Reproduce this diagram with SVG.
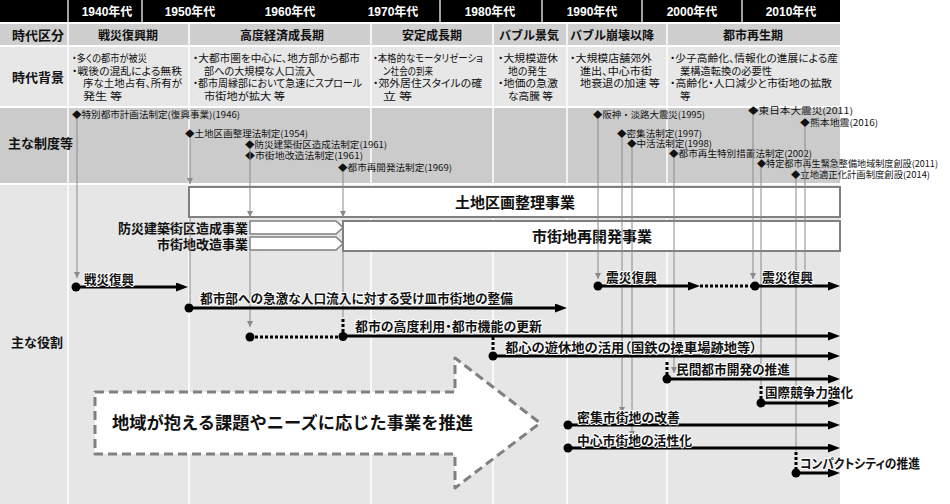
<svg xmlns="http://www.w3.org/2000/svg" width="950" height="504" viewBox="0 0 950 504">
<defs>
<style>
text{font-family:'Noto Sans CJK JP','Liberation Sans',sans-serif;fill:#111}
.hd{font-family:'Liberation Sans','Noto Sans CJK JP',sans-serif;font-weight:bold;font-size:12px;fill:#fff}
.pt{font-weight:bold;font-size:12px;text-anchor:middle}
.lb{font-weight:bold;font-size:13px}
.bg{font-size:10.5px;font-feature-settings:'palt'}
.in{font-size:9px}
.rl{font-weight:bold;font-size:13px;font-feature-settings:'palt';stroke:#fff;stroke-width:2;stroke-linejoin:round;paint-order:stroke}
.bx{fill:#fff;stroke:#808080;stroke-width:2}
.bt{font-weight:bold;font-size:15px;text-anchor:middle}
.gl{stroke:#8a8a8a;stroke-width:1;fill:none}
.ga{stroke:#8a8a8a;stroke-width:1;fill:none;marker-end:url(#gh)}
.rs{stroke:#000;stroke-width:3;fill:none}
.ra{stroke:#000;stroke-width:3;fill:none;marker-end:url(#ah)}
.rd{stroke:#000;stroke-width:3;fill:none;stroke-dasharray:3 2}
.dt{fill:#000}
.wl{stroke:#fff;stroke-width:1.5}
</style>
<marker id="ah" viewBox="0 0 12 9" refX="2" refY="4.5" markerWidth="12" markerHeight="9" markerUnits="userSpaceOnUse" orient="auto"><path d="M0,0 L12,4.5 L0,9 z" fill="#000"/></marker>
<marker id="gh" viewBox="0 0 6 6" refX="6" refY="3" markerWidth="6" markerHeight="6" markerUnits="userSpaceOnUse" orient="auto"><path d="M0,0 L6,3 L0,6 z" fill="#8a8a8a"/></marker>
</defs>
<rect width="950" height="504" fill="#fff"/>

<g id="table">
<rect x="0" y="0" width="840" height="22" fill="#000"/>
<rect x="0" y="24" width="840" height="21" fill="#cfcfcf"/>
<rect x="0" y="47" width="840" height="59" fill="#e7e7e7"/>
<rect x="0" y="108" width="840" height="75" fill="#cbcbcb"/>
<rect x="0" y="185" width="840" height="319" fill="#e6e6e6"/>
<g stroke="#d8d8d8" stroke-width="1.5">
<line x1="68" y1="0" x2="68" y2="22"/><line x1="142" y1="0" x2="142" y2="22"/><line x1="440" y1="0" x2="440" y2="22"/><line x1="542" y1="0" x2="542" y2="22"/><line x1="642" y1="0" x2="642" y2="22"/><line x1="742" y1="0" x2="742" y2="22"/>
</g>
<g class="wl">
<line x1="68" y1="23" x2="68" y2="504"/><line x1="189" y1="23" x2="189" y2="504"/><line x1="371" y1="23" x2="371" y2="504"/><line x1="493" y1="23" x2="493" y2="504"/><line x1="567" y1="23" x2="567" y2="504"/><line x1="667" y1="23" x2="667" y2="504"/>
</g>
</g>

<g id="decades">
<text class="hd" x="107" y="16" text-anchor="middle">1940年代</text>
<text class="hd" x="190" y="16" text-anchor="middle">1950年代</text>
<text class="hd" x="290" y="16" text-anchor="middle">1960年代</text>
<text class="hd" x="393" y="16" text-anchor="middle">1970年代</text>
<text class="hd" x="490" y="16" text-anchor="middle">1980年代</text>
<text class="hd" x="592" y="16" text-anchor="middle">1990年代</text>
<text class="hd" x="692" y="16" text-anchor="middle">2000年代</text>
<text class="hd" x="791" y="16" text-anchor="middle">2010年代</text>
</g>

<g id="row-labels">
<text class="lb" x="12" y="39.5" font-size="12">時代区分</text>
<text class="lb" x="12" y="82">時代背景</text>
<text class="lb" x="8" y="148">主な制度等</text>
<text class="lb" x="11" y="347" font-size="12">主な役割</text>
</g>

<g id="periods">
<text class="pt" x="128" y="39.5">戦災復興期</text>
<text class="pt" x="282" y="39.5">高度経済成長期</text>
<text class="pt" x="432" y="39.5">安定成長期</text>
<text class="pt" x="529" y="39.5">バブル景気</text>
<text class="pt" x="612" y="39.5">バブル崩壊以降</text>
<text class="pt" x="753" y="39.5">都市再生期</text>
</g>

<g id="background">
<text class="bg" x="72" y="62" textLength="75" lengthAdjust="spacingAndGlyphs">・多くの都市が被災</text>
<text class="bg" x="72" y="75" textLength="110" lengthAdjust="spacingAndGlyphs">・戦後の混乱による無秩</text>
<text class="bg" x="83" y="87" textLength="99" lengthAdjust="spacingAndGlyphs">序な土地占有、所有が</text>
<text class="bg" x="83" y="99.5" textLength="39" lengthAdjust="spacingAndGlyphs">発生 等</text>
<text class="bg" x="193" y="62" textLength="167" lengthAdjust="spacingAndGlyphs">・大都市圏を中心に、地方部から都市</text>
<text class="bg" x="204" y="75" textLength="111" lengthAdjust="spacingAndGlyphs">部への大規模な人口流入</text>
<text class="bg" x="193" y="87" textLength="169" lengthAdjust="spacingAndGlyphs">・都市周縁部において急速にスプロール</text>
<text class="bg" x="204" y="99.5" textLength="81" lengthAdjust="spacingAndGlyphs">市街地が拡大 等</text>
<text class="bg" x="373" y="62" textLength="110" lengthAdjust="spacingAndGlyphs">・本格的なモータリゼーショ</text>
<text class="bg" x="383" y="75" textLength="50" lengthAdjust="spacingAndGlyphs">ン社会の到来</text>
<text class="bg" x="373" y="87" textLength="109" lengthAdjust="spacingAndGlyphs">・郊外居住スタイルの確</text>
<text class="bg" x="383" y="99.5" textLength="29" lengthAdjust="spacingAndGlyphs">立 等</text>
<text class="bg" x="498" y="62" textLength="60" lengthAdjust="spacingAndGlyphs">・大規模遊休</text>
<text class="bg" x="508" y="75" textLength="39" lengthAdjust="spacingAndGlyphs">地の発生</text>
<text class="bg" x="498" y="87" textLength="60" lengthAdjust="spacingAndGlyphs">・地価の急激</text>
<text class="bg" x="508" y="99.5" textLength="45" lengthAdjust="spacingAndGlyphs">な高騰 等</text>
<text class="bg" x="570" y="62" textLength="82" lengthAdjust="spacingAndGlyphs">・大規模店舗郊外</text>
<text class="bg" x="580" y="75" textLength="72" lengthAdjust="spacingAndGlyphs">進出、中心市街</text>
<text class="bg" x="580" y="87" textLength="80" lengthAdjust="spacingAndGlyphs">地衰退の加速 等</text>
<text class="bg" x="670" y="62" textLength="168" lengthAdjust="spacingAndGlyphs">・少子高齢化、情報化の進展による産</text>
<text class="bg" x="680" y="75" textLength="92" lengthAdjust="spacingAndGlyphs">業構造転換の必要性</text>
<text class="bg" x="670" y="87" textLength="162" lengthAdjust="spacingAndGlyphs">・高齢化・人口減少と市街地の拡散</text>
<text class="bg" x="680" y="99.5">等</text>
</g>

<g id="institutions">
<text class="in" x="72" y="117.5" textLength="168" lengthAdjust="spacingAndGlyphs">◆特別都市計画法制定(復興事業)(1946)</text>
<text class="in" x="185" y="136.5" textLength="123" lengthAdjust="spacingAndGlyphs">◆土地区画整理法制定(1954)</text>
<text class="in" x="245" y="147.5" textLength="142" lengthAdjust="spacingAndGlyphs">◆防災建築街区造成法制定(1961)</text>
<text class="in" x="245" y="158.5" textLength="118" lengthAdjust="spacingAndGlyphs">◆市街地改造法制定(1961)</text>
<text class="in" x="338" y="170.5" textLength="114" lengthAdjust="spacingAndGlyphs">◆都市再開発法制定(1969)</text>
<text class="in" x="593" y="117.5" textLength="112" lengthAdjust="spacingAndGlyphs">◆阪神・淡路大震災(1995)</text>
<text class="in" x="748" y="113.5" textLength="105" lengthAdjust="spacingAndGlyphs">◆東日本大震災(2011)</text>
<text class="in" x="800" y="125.5" textLength="78" lengthAdjust="spacingAndGlyphs">◆熊本地震(2016)</text>
<text class="in" x="617" y="136.5" textLength="85" lengthAdjust="spacingAndGlyphs">◆密集法制定(1997)</text>
<text class="in" x="627" y="146.5" textLength="85" lengthAdjust="spacingAndGlyphs">◆中活法制定(1998)</text>
<text class="in" x="669" y="156.5" textLength="143" lengthAdjust="spacingAndGlyphs">◆都市再生特別措置法制定(2002)</text>
<text class="in" x="757" y="166.5" textLength="181" lengthAdjust="spacingAndGlyphs">◆特定都市再生緊急整備地域制度創設(2011)</text>
<text class="in" x="791" y="177.5" textLength="139" lengthAdjust="spacingAndGlyphs">◆立地適正化計画制度創設(2014)</text>
</g>

<g id="box-kukaku">
<rect class="bx" x="189" y="187" width="651" height="30"/>
<text class="bt" x="515" y="207.5">土地区画整理事業</text>
</g>
<g id="box-saikaihatsu">
<rect class="bx" x="343" y="221" width="497" height="30"/>
<text class="bt" x="592" y="241.5">市街地再開発事業</text>
</g>
<g id="box-bousai">
<polygon points="250,221 336,221 343,227.5 336,234 250,234" fill="#fff" stroke="#808080" stroke-width="1.5"/>
<text class="lb" x="248" y="232.5" font-size="12" text-anchor="end">防災建築街区造成事業</text>
</g>
<g id="box-kaizou">
<polygon points="250,237 336,237 343,243.5 336,250 250,250" fill="#fff" stroke="#808080" stroke-width="1.5"/>
<text class="lb" x="248" y="248.5" font-size="12" text-anchor="end">市街地改造事業</text>
</g>

<g id="big-arrow">
<polygon points="95,392 455,392 455,358 540,423 455,488 455,454 95,454" fill="#fff" stroke="#808080" stroke-width="3" stroke-dasharray="9 5" stroke-linejoin="round"/>
<text x="112" y="429" font-weight="bold" font-size="17" textLength="361" lengthAdjust="spacingAndGlyphs">地域が抱える課題やニーズに応じた事業を推進</text>
</g>

<g id="connectors">
<line class="ga" x1="77" y1="119" x2="77" y2="278"/>
<line class="ga" x1="190" y1="138" x2="190" y2="184"/>
<line class="gl" x1="190" y1="217" x2="190" y2="303"/>
<line class="ga" x1="250" y1="149" x2="250" y2="217"/>
<line class="ga" x1="250" y1="251" x2="250" y2="327"/>
<line class="ga" x1="343" y1="172" x2="343" y2="217"/>
<line class="gl" x1="343" y1="251" x2="343" y2="317"/>
<line class="ga" x1="598" y1="119" x2="598" y2="279"/>
<line class="ga" x1="622" y1="138" x2="622" y2="413"/>
<line class="ga" x1="632" y1="148" x2="632" y2="437"/>
<line class="ga" x1="674" y1="158" x2="674" y2="373"/>
<line class="ga" x1="753" y1="115" x2="753" y2="279"/>
<line class="gl" x1="761" y1="168" x2="761" y2="385"/>
<line class="gl" x1="796" y1="179" x2="796" y2="451"/>
<line class="ga" x1="805" y1="127" x2="805" y2="280"/>

<line class="rd" x1="343" y1="319" x2="343" y2="332"/>
<line class="rd" x1="493" y1="337" x2="493" y2="352"/>
<line class="rd" x1="667" y1="362" x2="667" y2="376"/>
<line class="rd" x1="761" y1="386" x2="761" y2="399"/>
<line class="rd" x1="796" y1="452" x2="796" y2="469"/>

<line class="ra" x1="76" y1="287" x2="178" y2="287"/>
<line class="ra" x1="189" y1="308" x2="557" y2="308"/>
<line class="rd" x1="250" y1="337" x2="343" y2="337"/>
<line class="ra" x1="343" y1="336" x2="830" y2="336"/>
<line class="ra" x1="493" y1="356" x2="830" y2="356"/>
<line class="ra" x1="667" y1="379" x2="830" y2="379"/>
<line class="ra" x1="761" y1="403" x2="830" y2="403"/>
<line class="ra" x1="568" y1="425" x2="830" y2="425"/>
<line class="ra" x1="568" y1="448" x2="830" y2="448"/>
<line class="ra" x1="796" y1="473" x2="830" y2="473"/>
<line class="ra" x1="598" y1="286" x2="690" y2="286"/>
<line class="rd" x1="700" y1="286" x2="755" y2="286"/>
<line class="ra" x1="755" y1="286" x2="830" y2="286"/>

<circle class="dt" cx="76" cy="287" r="4.5"/>
<circle class="dt" cx="189" cy="308" r="4.5"/>
<circle class="dt" cx="250" cy="337" r="4.5"/>
<circle class="dt" cx="343" cy="336.5" r="4.5"/>
<circle class="dt" cx="493" cy="356" r="4.5"/>
<circle class="dt" cx="667" cy="379" r="4.5"/>
<circle class="dt" cx="761" cy="403" r="4.5"/>
<circle class="dt" cx="568" cy="425" r="4.5"/>
<circle class="dt" cx="568" cy="448" r="4.5"/>
<circle class="dt" cx="796" cy="473" r="4.5"/>
<circle class="dt" cx="598" cy="286" r="4.5"/>
<circle class="dt" cx="755" cy="286" r="4.5"/>
</g>

<g id="role-labels">
<text class="rl" x="84" y="283.5" textLength="50" lengthAdjust="spacingAndGlyphs">戦災復興</text>
<text class="rl" x="200" y="302.5" textLength="313" lengthAdjust="spacingAndGlyphs">都市部への急激な人口流入に対する受け皿市街地の整備</text>
<text class="rl" x="355" y="330.5" textLength="187" lengthAdjust="spacingAndGlyphs">都市の高度利用・都市機能の更新</text>
<text class="rl" x="505" y="351.5" textLength="252" lengthAdjust="spacingAndGlyphs">都心の遊休地の活用（国鉄の操車場跡地等）</text>
<text class="rl" x="676" y="373.5" textLength="114" lengthAdjust="spacingAndGlyphs">民間都市開発の推進</text>
<text class="rl" x="765" y="396.5" textLength="88" lengthAdjust="spacingAndGlyphs">国際競争力強化</text>
<text class="rl" x="577" y="421.5" textLength="103" lengthAdjust="spacingAndGlyphs">密集市街地の改善</text>
<text class="rl" x="577" y="444.5" textLength="115" lengthAdjust="spacingAndGlyphs">中心市街地の活性化</text>
<text class="rl" x="800" y="467.5" textLength="120" lengthAdjust="spacingAndGlyphs">コンパクトシティの推進</text>
<text class="rl" x="606" y="281.5" textLength="51" lengthAdjust="spacingAndGlyphs">震災復興</text>
<text class="rl" x="762" y="281.5" textLength="51" lengthAdjust="spacingAndGlyphs">震災復興</text>
</g>
</svg>
